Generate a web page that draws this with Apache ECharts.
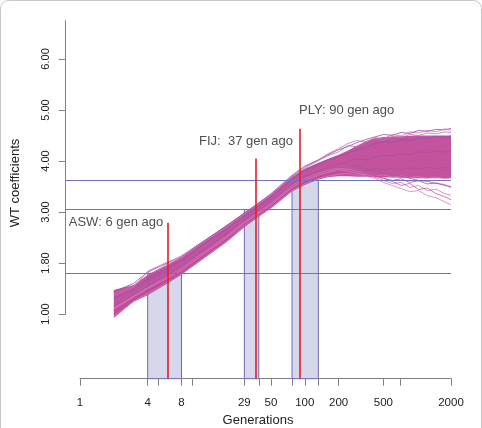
<!DOCTYPE html>
<html>
<head>
<meta charset="utf-8">
<script src="https://cdn.jsdelivr.net/npm/echarts@6/dist/echarts.min.js"></script>
<style>
  html, body { margin: 0; padding: 0; background: #fff; }
  #chart { width: 482px; height: 428px; }
</style>
</head>
<body>
<div id="chart"></div>
<script>
// envelope of the dense bundle of WT-coefficient curves
const bandGens  = [2, 3, 4, 6, 8, 12, 20, 29, 37, 50, 77, 100, 131, 160, 200, 240, 290, 350, 420, 500, 1000, 2000];
const bandUpper = [1.47, 1.57, 1.77, 1.96, 2.12, 2.40, 2.74, 2.99, 3.15, 3.35, 3.70, 3.85, 3.96, 4.04, 4.12, 4.20, 4.30, 4.38, 4.44, 4.47, 4.50, 4.50];
const bandLower = [0.92, 1.24, 1.37, 1.60, 1.77, 2.05, 2.40, 2.70, 2.87, 3.07, 3.40, 3.53, 3.63, 3.68, 3.70, 3.70, 3.69, 3.69, 3.68, 3.68, 3.66, 3.66];

// a handful of individual trajectories that stand out from the bundle
const trajGens = [2, 3, 4, 6, 8, 12, 20, 29, 37, 50, 77, 100, 131, 160, 200, 240, 290, 350, 420, 500, 600, 720, 860, 1030, 1230, 1470, 1750, 2000];
const trajA = [1.44, 1.60, 1.82, 2.00, 2.14, 2.40, 2.72, 2.97, 3.14, 3.36, 3.72, 3.90, 4.02, 4.12, 4.22, 4.28, 4.36, 4.42, 4.47, 4.52, 4.50, 4.56, 4.54, 4.60, 4.58, 4.62, 4.61, 4.64];
const trajB = [1.40, 1.55, 1.75, 1.98, 2.10, 2.38, 2.70, 2.95, 3.12, 3.33, 3.68, 3.86, 4.00, 4.10, 4.18, 4.30, 4.28, 4.38, 4.44, 4.40, 4.48, 4.46, 4.52, 4.50, 4.55, 4.53, 4.57, 4.56];
const trajC = [1.30, 1.50, 1.68, 1.90, 2.05, 2.34, 2.66, 2.93, 3.09, 3.30, 3.64, 3.82, 3.94, 4.02, 4.08, 4.15, 4.22, 4.26, 4.34, 4.38, 4.36, 4.42, 4.40, 4.45, 4.43, 4.48, 4.46, 4.49];
const trajD = [1.22, 1.42, 1.60, 1.82, 1.98, 2.28, 2.62, 2.89, 3.04, 3.25, 3.59, 3.75, 3.86, 3.94, 4.02, 4.06, 4.12, 4.16, 4.22, 4.20, 4.27, 4.25, 4.31, 4.28, 4.33, 4.30, 4.35, 4.33];
const trajE = [1.15, 1.38, 1.55, 1.77, 1.93, 2.22, 2.57, 2.84, 3.00, 3.20, 3.55, 3.70, 3.80, 3.88, 3.94, 3.98, 4.04, 4.02, 4.08, 4.12, 4.10, 4.15, 4.12, 4.18, 4.16, 4.20, 4.17, 4.19];
const trajF = [1.08, 1.32, 1.50, 1.72, 1.88, 2.16, 2.51, 2.79, 2.95, 3.15, 3.50, 3.64, 3.74, 3.80, 3.86, 3.90, 3.92, 3.96, 3.94, 3.99, 3.97, 4.01, 3.98, 4.03, 4.00, 4.04, 4.01, 4.02];
const trajG = [1.00, 1.28, 1.44, 1.66, 1.82, 2.10, 2.45, 2.75, 2.91, 3.11, 3.45, 3.58, 3.68, 3.73, 3.78, 3.80, 3.83, 3.80, 3.85, 3.82, 3.86, 3.83, 3.87, 3.84, 3.88, 3.85, 3.87, 3.86];
const trajH = [0.95, 1.25, 1.40, 1.62, 1.78, 2.07, 2.42, 2.73, 2.90, 3.09, 3.42, 3.55, 3.65, 3.70, 3.74, 3.76, 3.72, 3.75, 3.70, 3.73, 3.68, 3.71, 3.67, 3.70, 3.66, 3.69, 3.65, 3.67];
const trajI = [1.05, 1.30, 1.46, 1.68, 1.84, 2.12, 2.47, 2.77, 2.93, 3.12, 3.47, 3.60, 3.70, 3.75, 3.80, 3.78, 3.74, 3.76, 3.70, 3.66, 3.62, 3.65, 3.58, 3.61, 3.55, 3.57, 3.52, 3.50];
const trajJ = [1.12, 1.35, 1.52, 1.74, 1.90, 2.18, 2.52, 2.81, 2.97, 3.17, 3.52, 3.66, 3.76, 3.82, 3.86, 3.84, 3.80, 3.74, 3.68, 3.62, 3.56, 3.58, 3.48, 3.52, 3.42, 3.45, 3.36, 3.33];
const trajK = [1.18, 1.40, 1.57, 1.80, 1.95, 2.25, 2.59, 2.86, 3.02, 3.22, 3.57, 3.72, 3.82, 3.88, 3.92, 3.88, 3.84, 3.78, 3.72, 3.66, 3.60, 3.52, 3.56, 3.44, 3.47, 3.36, 3.30, 3.24];
const trajL = [1.10, 1.34, 1.50, 1.70, 1.86, 2.14, 2.49, 2.78, 2.94, 3.14, 3.48, 3.62, 3.72, 3.78, 3.83, 3.80, 3.76, 3.70, 3.66, 3.58, 3.52, 3.46, 3.40, 3.42, 3.32, 3.28, 3.20, 3.14];
const trajM = [1.36, 1.52, 1.84, 2.02, 2.12, 2.38, 2.71, 2.96, 3.13, 3.34, 3.71, 3.88, 4.01, 4.14, 4.24, 4.34, 4.40, 4.37, 4.46, 4.43, 4.52, 4.49, 4.57, 4.55, 4.60, 4.57, 4.63, 4.60];
const trajN = [1.20, 1.45, 1.62, 1.84, 1.96, 2.26, 2.60, 2.88, 3.04, 3.24, 3.56, 3.70, 3.78, 3.84, 3.88, 3.86, 3.90, 3.84, 3.80, 3.76, 3.74, 3.70, 3.66, 3.62, 3.60, 3.56, 3.54, 3.48];

// reference levels, shaded windows and admixture events
const refLevels = [1.8, 3.05, 3.62];
const shadeFrom = [4, 29, 77];
const shadeTo = [8, 39, 132];
const eventGens = [6, 37, 90];
const eventTops = [2.79, 4.05, 4.63];
const eventLabels = ['ASW: 6 gen ago', 'FIJ:  37 gen ago', 'PLY: 90 gen ago'];
const labelAt = [[5.5, 2.79], [30, 4.38], [89, 4.99]];
const labelAlign = ['right', 'center', 'left'];

// axis ticks
const xTickGens = [1, 4, 5, 8, 10, 29, 39, 50, 77, 100, 132, 200, 500, 700, 2000];
const xLabelGens = [1, 4, 8, 29, 50, 100, 200, 500, 2000];
const yTickPos = [1, 2, 3, 4, 5, 6];
const yTickText = ['1.00', '1.80', '3.00', '4.00', '5.00', '6.00'];

// layout (pixels)
const W = 482, H = 428;
const plotL = 65.7, axisX0 = 80, plotR = 451, plotT = 20.7, yAxisBottom = 314, plotB = 378.7;
const lg = Math.log10;
const xMax = lg(2000);
const yMax = 6.75;
const xMinA = -(axisX0 - plotL) * xMax / (plotR - axisX0);
const pxPerUnit = (yAxisBottom - plotT) / (yMax - 1);
const yMinA = yMax - (plotB - plotT) / pxPerUnit;

const FONT = "'Liberation Sans', Arial, Helvetica, sans-serif";
const AXIS = '#808080';

const trajs = [
  [trajH, '#d77ab4'], [trajG, '#b9489b'], [trajF, '#c2509c'], [trajE, '#a84a9f'],
  [trajD, '#c8559e'], [trajC, '#8656ae'], [trajB, '#cf6aaa'], [trajA, '#9250ad'],
  [trajM, '#c870b0'], [trajN, '#a8569f'],
  [trajI, '#b2519f'], [trajJ, '#cf78b4'], [trajK, '#c05aa6'], [trajL, '#d57fb8']
];

const series = [
  {
    // holder for shaded windows and reference lines
    type: 'line', xAxisIndex: 0, yAxisIndex: 0, data: [], silent: true,
    markArea: {
      silent: true,
      itemStyle: { color: '#d7d7ec', borderColor: '#6c6cb6', borderWidth: 1 },
      data: shadeFrom.map((a, i) => [{ coord: [lg(a), yMinA] }, { coord: [lg(shadeTo[i]), refLevels[i]] }])
    },
    markLine: {
      silent: true, symbol: 'none', label: { show: false },
      lineStyle: { color: '#7272bb', width: 1, type: 'solid' },
      data: refLevels.map(v => ({ yAxis: v }))
    }
  },
  {
    // dense bundle: polygon between lower and upper envelope
    type: 'custom', xAxisIndex: 0, yAxisIndex: 0, silent: true,
    data: [0],
    renderItem: (params, api) => {
      const top = bandGens.map((g, i) => api.coord([lg(g), bandUpper[i]]));
      const bot = bandGens.map((g, i) => api.coord([lg(g), bandLower[i]])).reverse();
      return {
        type: 'polygon',
        shape: { points: top.concat(bot) },
        style: { fill: '#be4696', opacity: 0.93 }
      };
    }
  }
];

trajs.forEach(([vals, color]) => {
  series.push({
    type: 'line', xAxisIndex: 0, yAxisIndex: 0, symbol: 'none', silent: true,
    lineStyle: { color: color, width: 0.8 },
    data: trajGens.map((g, i) => [lg(g), vals[i]])
  });
});

series.push({
  type: 'scatter', xAxisIndex: 0, yAxisIndex: 0, symbolSize: 1, silent: true,
  itemStyle: { color: 'transparent' },
  label: {
    show: true, position: 'inside', color: '#222', fontSize: 13, fontFamily: FONT,
    formatter: p => eventLabels[p.dataIndex]
  },
  data: labelAt.map((p, i) => ({ value: [lg(p[0]), p[1]], label: { align: labelAlign[i] } })),
  markLine: {
    silent: true, symbol: 'none', label: { show: false },
    lineStyle: { color: '#e2202c', width: 1.6, type: 'solid' },
    data: eventGens.map((g, i) => [{ coord: [lg(g), yMinA] }, { coord: [lg(g), eventTops[i]] }])
  }
});

const option = {
  animation: false,
  backgroundColor: '#fff',
  grid: [
    { left: plotL, right: W - plotR, top: plotT, bottom: H - plotB, outerBoundsMode: 'none' },
    { left: axisX0, right: W - plotR, top: plotT, bottom: H - plotB, outerBoundsMode: 'none' },
    { left: plotL, right: W - plotR, top: plotT, bottom: H - yAxisBottom, outerBoundsMode: 'none' }
  ],
  xAxis: [
    { gridIndex: 0, type: 'value', min: xMinA, max: xMax, show: false },
    {
      gridIndex: 1, type: 'value', min: 0, max: xMax,
      axisLine: { show: true, lineStyle: { color: AXIS, width: 1 } },
      axisTick: { show: true, length: 7, lineStyle: { color: AXIS }, customValues: xTickGens.map(lg) },
      axisLabel: {
        customValues: xLabelGens.map(lg), margin: 18, color: '#222', fontSize: 11.5, fontFamily: FONT,
        formatter: v => String(Math.round(Math.pow(10, v)))
      },
      splitLine: { show: false }
    },
    { gridIndex: 2, type: 'value', min: 0, max: 1, show: false }
  ],
  yAxis: [
    { gridIndex: 0, type: 'value', min: yMinA, max: yMax, show: false },
    { gridIndex: 1, type: 'value', min: 0, max: 1, show: false },
    {
      gridIndex: 2, type: 'value', min: 1, max: yMax,
      axisLine: { show: true, lineStyle: { color: AXIS, width: 1 } },
      axisTick: { show: true, length: 7, lineStyle: { color: AXIS }, customValues: yTickPos },
      axisLabel: {
        customValues: yTickPos, rotate: 90, margin: 14, color: '#222', fontSize: 11, fontFamily: FONT,
        formatter: v => yTickText[yTickPos.indexOf(v)]
      },
      splitLine: { show: false }
    }
  ],
  graphic: [
    {
      type: 'rect', silent: true, z: -10,
      shape: { x: 0.5, y: 0.5, width: W - 1, height: H + 20, r: 8 },
      style: { fill: 'none', stroke: '#c8c8c8', lineWidth: 1 }
    },
    {
      type: 'text', x: 15, y: 183, rotation: Math.PI / 2, silent: true,
      style: { text: 'WT coefficients', fill: '#222', font: '13px ' + FONT, textAlign: 'center', textVerticalAlign: 'middle' }
    },
    {
      type: 'text', x: 258, y: 420, silent: true,
      style: { text: 'Generations', fill: '#222', font: '13px ' + FONT, textAlign: 'center', textVerticalAlign: 'middle' }
    }
  ],
  series: series
};

const chart = echarts.init(document.getElementById('chart'), null, { renderer: 'canvas' });
chart.setOption(option);
</script>
</body>
</html>
